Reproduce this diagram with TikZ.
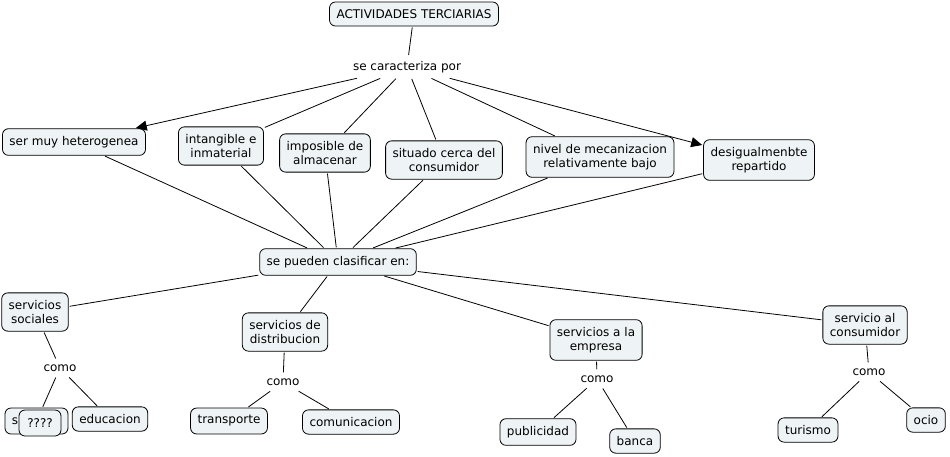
\documentclass[tikz,border=0pt]{standalone}
\usepackage{fontspec}
\setmainfont{DejaVu Sans}
\usetikzlibrary{arrows.meta,positioning}

\definecolor{boxfill}{HTML}{EEF3F5}

\begin{document}
\begin{tikzpicture}[x=1pt,y=-1pt,>={Triangle[length=11pt,width=10pt]},
    concept/.style={draw=black,fill=boxfill,rounded corners=6pt,align=center,
      inner xsep=7pt,inner ysep=7.5pt,line width=0.8pt,font=\fontsize{12}{14}\selectfont},
    link/.style={align=center,inner sep=5pt,font=\fontsize{12}{14}\selectfont},
    conn/.style={line width=0.8pt,shorten <=1pt,shorten >=1pt}]
    \useasboundingbox (0,0) rectangle (950,456);
    % Top
    \node[concept] (act) at (414,14) {ACTIVIDADES TERCIARIAS};
    \node[link] (carac) at (407,67) {se caracteriza por};
    % Characteristics
    \node[concept] (hetero) at (74,142) {ser muy heterogenea};
    \node[concept] (intang) at (221,146) {intangible e\\inmaterial};
    \node[concept] (almac) at (325,153) {imposible de\\almacenar};
    \node[concept] (cerca) at (444,160) {situado cerca del\\consumidor};
    \node[concept] (mecan) at (600,157) {nivel de mecanizacion\\relativamente bajo};
    \node[concept] (desig) at (759,160) {desigualmenbte\\repartido};
    % Classification
    \node[concept] (clasif) at (338,262) {se pueden clasificar en:};
    \node[concept] (social) at (35,312) {servicios\\sociales};
    \node[concept] (distr) at (285,332) {servicios de\\distribucion};
    \node[concept] (empresa) at (596,340) {servicios a la\\empresa};
    \node[concept] (consum) at (865,325) {servicio al\\consumidor};
    % como
    \node[link] (como1) at (60,368) {como};
    \node[link] (como2) at (283,382) {como};
    \node[link] (como3) at (597,379) {como};
    \node[link] (como4) at (869,372) {como};
    % Examples
    \node[concept,minimum width=63pt,minimum height=26pt,text width=49pt,align=left] (sanidad) at (36.5,421) {s};
    \node[concept,minimum width=42pt,minimum height=26pt] (nose) at (40,423) {????};
    \node[concept] (educ) at (110,419) {educacion};
    \node[concept] (transp) at (229,421) {transporte};
    \node[concept] (comun) at (351,422) {comunicacion};
    \node[concept] (public) at (538,432) {publicidad};
    \node[concept] (banca) at (635,441) {banca};
    \node[concept] (turismo) at (808,430) {turismo};
    \node[concept] (ocio) at (926,420) {ocio};
    % Connectors
    \draw[conn] (act) -- (carac);
    \draw[conn,->] (carac) -- (hetero);
    \draw[conn,->] (carac) -- (desig);
    \foreach \n in {intang,almac,cerca,mecan}
      \draw[conn] (carac) -- (\n);
    \foreach \n in {hetero,intang,almac,cerca,mecan,desig}
      \draw[conn] (\n) -- (clasif);
    \foreach \n in {social,distr,empresa,consum}
      \draw[conn] (clasif) -- (\n);
    \draw[conn] (social) -- (como1);
    \draw[conn] (como1) -- (sanidad);
    \draw[conn] (como1) -- (educ);
    \draw[conn] (distr) -- (como2);
    \draw[conn] (como2) -- (transp);
    \draw[conn] (como2) -- (comun);
    \draw[conn] (empresa) -- (como3);
    \draw[conn] (como3) -- (public);
    \draw[conn] (como3) -- (banca);
    \draw[conn] (consum) -- (como4);
    \draw[conn] (como4) -- (turismo);
    \draw[conn] (como4) -- (ocio);
\end{tikzpicture}
\end{document}
